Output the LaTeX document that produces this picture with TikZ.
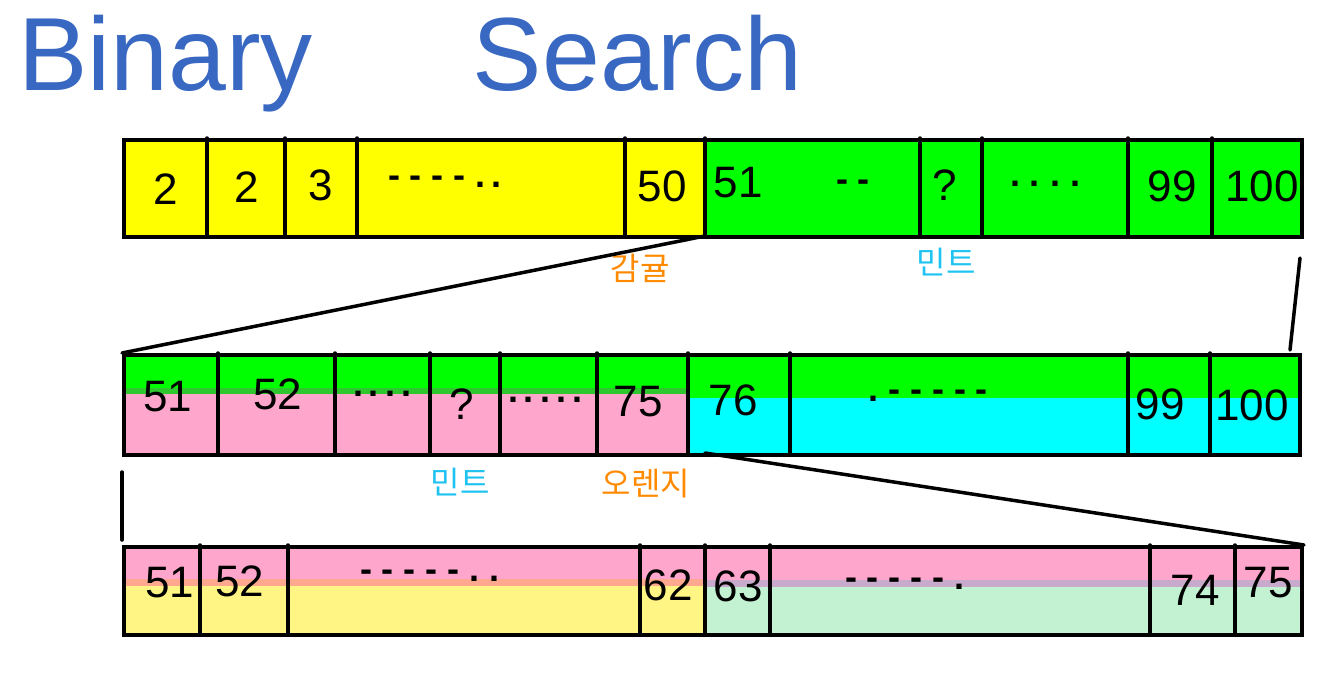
\documentclass[tikz,border=0pt]{standalone}
\usepackage{fontspec}
\setmainfont{Liberation Sans}
\newfontfamily\kor{Noto Sans CJK KR}
\definecolor{hlyellow}{HTML}{FFFF00}
\definecolor{hlgreen}{HTML}{00FF00}
\definecolor{hlpink}{HTML}{FFA6CC}
\definecolor{hlcyan}{HTML}{00FFFF}
\definecolor{paleyellow}{HTML}{FFF584}
\definecolor{palemint}{HTML}{C2F2D2}
\definecolor{darkband}{HTML}{2EC82E}
\definecolor{salmonband}{HTML}{FFA890}
\definecolor{lilacband}{HTML}{C8AACD}
\definecolor{titleblue}{HTML}{3868C2}
\definecolor{lblorange}{HTML}{FF8A00}
\definecolor{lblcyan}{HTML}{1EC3F2}
\newcommand{\dgap}{\hspace{10pt}}
\newcommand{\sgap}{\hspace{6pt}}
\tikzset{
  rowbox/.style={draw=black, line width=4pt, inner sep=0pt, anchor=north west},
  divider/.style={line width=3.5pt, line cap=round},
  conn/.style={line width=3.5pt, line cap=round},
  num/.style={font=\fontsize{44}{44}\selectfont, inner sep=0pt},
  dots/.style={font=\fontsize{36}{36}\selectfont\bfseries, inner sep=0pt},
  kolbl/.style={font=\kor\fontsize{32}{32}\selectfont, inner sep=0pt}
}
\begin{document}
\begin{tikzpicture}[x=1pt,y=-1pt]
\useasboundingbox (0,0) rectangle (1330,677);
% title
\node[anchor=north west, inner sep=0pt, text=titleblue, font=\fontsize{104}{104}\selectfont] (title) at (18,15) {Binary\hspace{160pt}Search};

% ---------- row 1 ----------
\fill[hlyellow] (122,138) rectangle (705,235);
\fill[hlgreen] (705,138) rectangle (1300,235);
\node[rowbox, minimum width=1178pt, minimum height=97pt] (r1) at (122,138) {};
\foreach \x in {207,285,357,625,705,920,982,1128,1212}
  \draw[divider] (\x,138) -- (\x,235);
\node[num] (c11) at (166,189) {2};
\node[num] (c12) at (247,187) {2};
\node[num] (c13) at (321,185) {3};
\node[dots] (c14) at (445,182) {-\dgap-\dgap-\dgap-\dgap.\sgap.};
\node[num] (c15) at (662,186) {50};
\node[num] (c16) at (738,183) {51};
\node[dots] (c17) at (853,186) {-\dgap-};
\node[num] (c18) at (945,185) {?};
\node[dots] (c19) at (1045,184) {.\dgap.\dgap.\dgap.};
\node[num] (c110) at (1172,186) {99};
\node[num] (c111) at (1262,186) {100};
\node[kolbl, text=lblorange] (l11) at (640,268) {감귤};
\node[kolbl, text=lblcyan] (l12) at (946,262) {민트};

% ---------- row 2 ----------
\fill[hlgreen] (122,353) rectangle (1298,453);
\fill[darkband] (122,388) rectangle (688,396);
\fill[hlpink] (122,394) rectangle (688,453);
\fill[hlcyan] (688,398) rectangle (1298,453);
\node[rowbox, minimum width=1176pt, minimum height=100pt] (r2) at (122,353) {};
\foreach \x in {218,335,430,500,597,688,790,1128,1210}
  \draw[divider] (\x,353) -- (\x,453);
\node[num] (c21) at (168,397) {51};
\node[num] (c22) at (278,394) {52};
\node[dots] (c23) at (382,394) {.\sgap.\sgap.\sgap.};
\node[num] (c24) at (462,404) {?};
\node[dots] (c25) at (545,400) {.\sgap.\sgap.\sgap.\sgap.};
\node[num] (c26) at (638,402) {75};
\node[num] (c27) at (733,400) {76};
\node[dots] (c28) at (928,396) {.\dgap-\dgap-\dgap-\dgap-\dgap-};
\node[num] (c29) at (1160,404) {99};
\node[num] (c210) at (1252,405) {100};
\node[kolbl, text=lblcyan] (l21) at (460,482) {민트};
\node[kolbl, text=lblorange] (l22) at (646,484) {오렌지};

% ---------- row 3 ----------
\fill[hlpink] (122,545) rectangle (1300,633);
\fill[salmonband] (122,579) rectangle (705,587);
\fill[lilacband] (705,580) rectangle (1300,588);
\fill[paleyellow] (122,586) rectangle (705,633);
\fill[palemint] (705,587) rectangle (1300,633);
\node[rowbox, minimum width=1178pt, minimum height=88pt] (r3) at (122,545) {};
\foreach \x in {200,288,640,705,770,1150,1235}
  \draw[divider] (\x,545) -- (\x,633);
\node[num] (c31) at (170,583) {51};
\node[num] (c32) at (240,581) {52};
\node[dots] (c33) at (430,576) {-\dgap-\dgap-\dgap-\dgap-\dgap.\dgap.};
\node[num] (c34) at (668,585) {62};
\node[num] (c35) at (738,586) {63};
\node[dots] (c36) at (905,584) {-\dgap-\dgap-\dgap-\dgap-\dgap.};
\node[num] (c37) at (1195,590) {74};
\node[num] (c38) at (1268,583) {75};

% ---------- connectors ----------
\coordinate (s1) at (705,236);
\coordinate (b1) at (1300,258);
\coordinate (b2) at (1290,350);
\coordinate (s2) at (705,453);
\coordinate (d1) at (122,472);
\coordinate (d2) at (122,540);
\draw[conn] (s1) -- (r2.north west);
\draw[conn] (b1) -- (b2);
\draw[conn] (s2) -- (r3.north east);
\draw[conn] (d1) -- (d2);
\end{tikzpicture}
\end{document}
